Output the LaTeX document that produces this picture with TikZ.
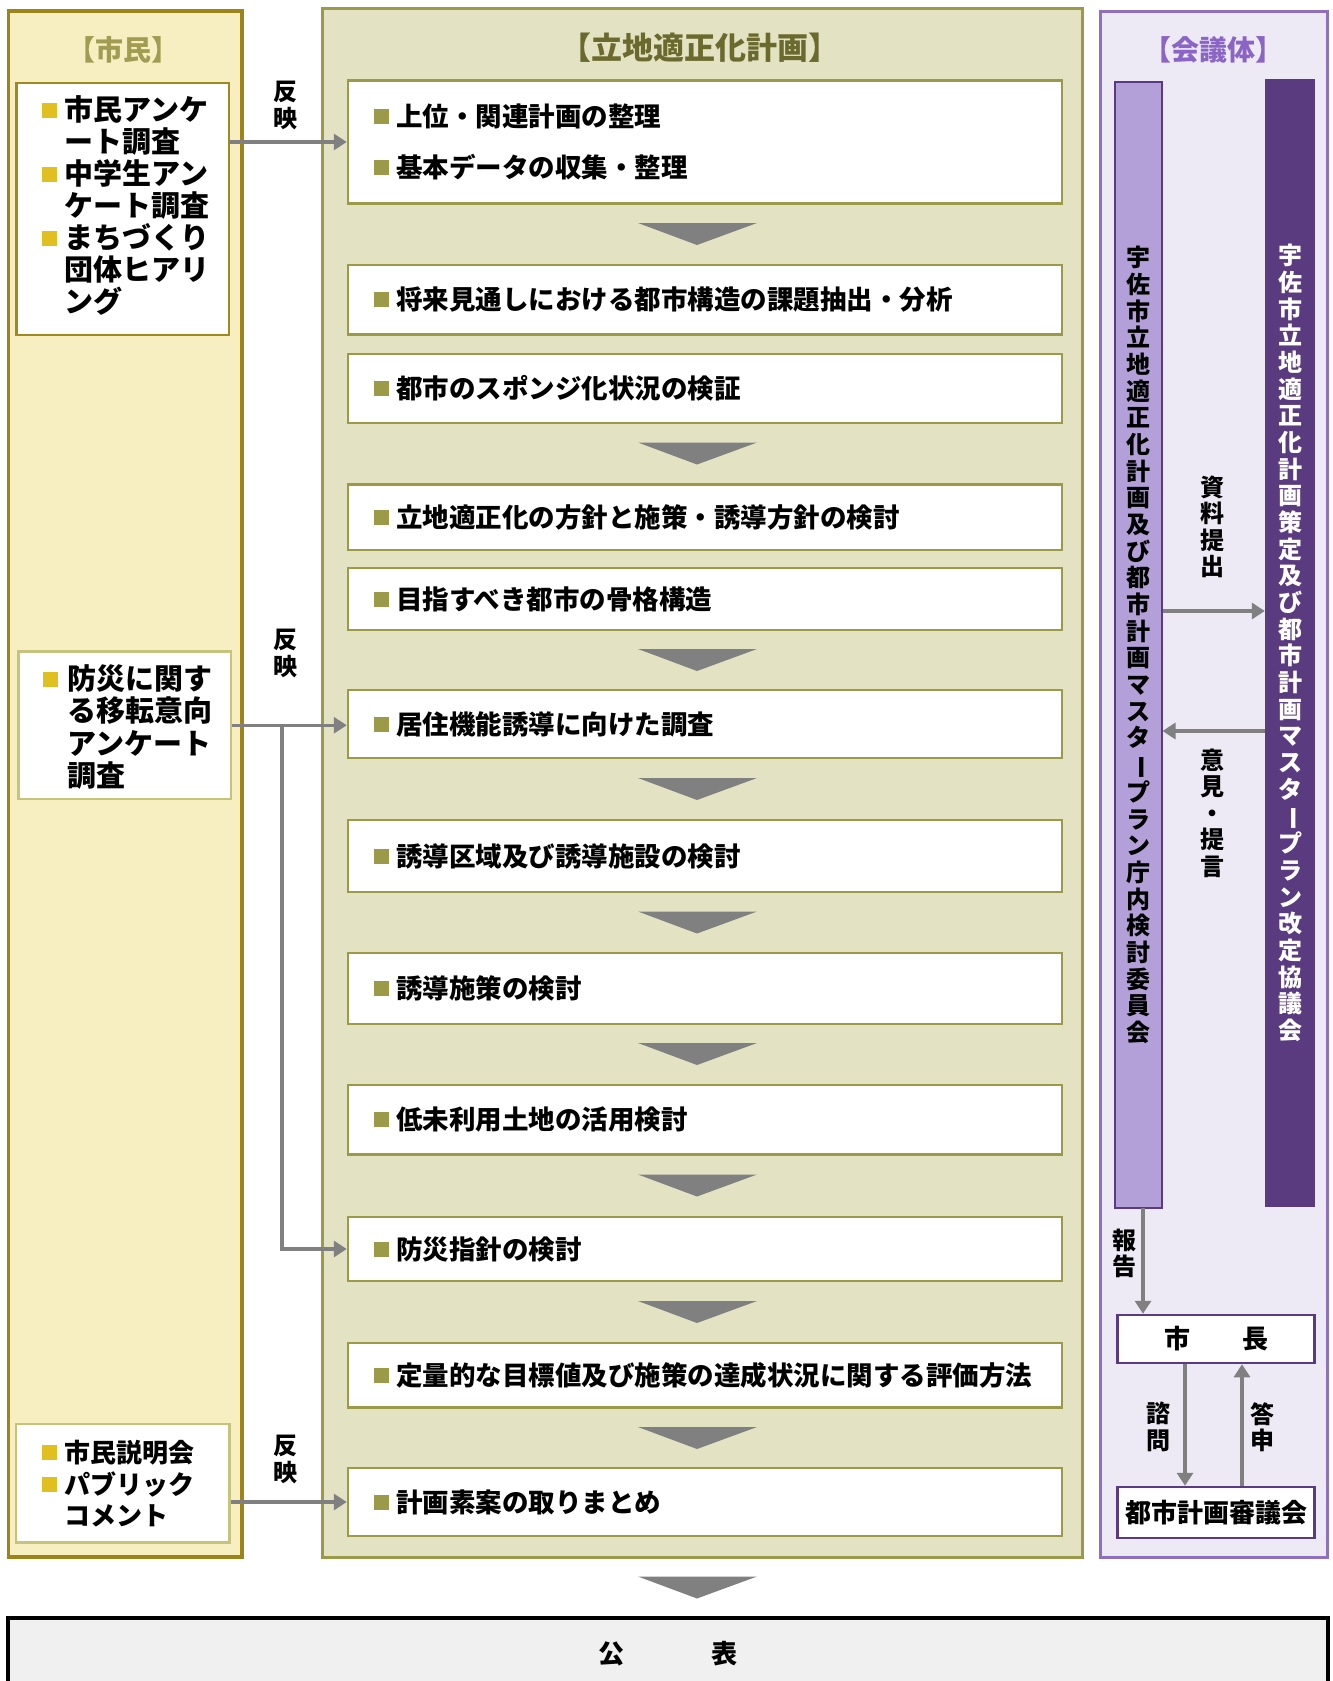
\documentclass[tikz,border=0pt]{standalone}
\usepackage{fontspec}
\setmainfont{Noto Sans CJK JP}
\usepackage{graphicx}
\usetikzlibrary{arrows.meta}
\definecolor{ctzfill}{HTML}{F7EEC2}
\definecolor{ctzline}{HTML}{9C8418}
\definecolor{ctztitle}{HTML}{A19C52}
\definecolor{boxAline}{HTML}{A08A20}
\definecolor{boxBline}{HTML}{C4C47C}
\definecolor{ybul}{HTML}{E0C020}
\definecolor{midfill}{HTML}{E3E3C4}
\definecolor{midline}{HTML}{9A9A48}
\definecolor{midtitle}{HTML}{6B6A2E}
\definecolor{obul}{HTML}{9A9A48}
\definecolor{arrgray}{HTML}{808080}
\definecolor{purfill}{HTML}{EEEAF5}
\definecolor{purline}{HTML}{8F6FC0}
\definecolor{purtitle}{HTML}{8B65C6}
\definecolor{lbarfill}{HTML}{B4A0D8}
\definecolor{barline}{HTML}{5A3A85}
\definecolor{dbarfill}{HTML}{5A3B80}
\definecolor{endfill}{HTML}{F0F0F0}
\newcommand\mybul[1]{\textcolor{#1}{\raisebox{2.4pt}{\rule{15pt}{15pt}}}\hspace{7pt}}
\newcommand\myind{\hspace{22pt}}
\newcommand\vbar{\rotatebox[origin=c]{-90}{ー}}
\newcommand\chev[1]{\fill[arrgray] (638,#1) -- (757,#1) -- (697,{#1+22}) -- cycle;}
\begin{document}
\begin{tikzpicture}[x=1pt,y=-1pt,
  ctzbox/.style={draw=boxAline, line width=2.5pt, fill=white, inner sep=0pt},
  ctzboxl/.style={draw=boxBline, line width=2.5pt, fill=white, inner sep=0pt},
  midbox/.style={draw=midline, line width=2.5pt, fill=white, minimum width=714pt,
     text width=662pt, inner xsep=26pt, inner ysep=0pt, align=left,
     font=\bfseries\fontsize{26.5}{51}\selectfont},
  purbox/.style={draw=barline, line width=2.5pt, fill=white, minimum width=197pt, inner sep=0pt,
     font=\bfseries\fontsize{26}{30}\selectfont},
  arr/.style={draw=arrgray, line width=3.2pt, -{Triangle[length=13pt,width=16pt]}},
  vlab/.style={align=center, inner sep=0pt, font=\bfseries\fontsize{24}{26.5}\selectfont},
  ttl/.style={inner sep=0pt, font=\bfseries\fontsize{28}{30}\selectfont}
]
\useasboundingbox (0,0) rectangle (1333,1681);
\clip (0,0) rectangle (1333,1681);
% outer panels
\draw[draw=ctzline, line width=3.5pt, fill=ctzfill] (8.5,11) rectangle (242,1557);
\draw[draw=midline, line width=3pt, fill=midfill] (322.5,8.5) rectangle (1082,1557);
\draw[draw=purline, line width=3pt, fill=purfill] (1100.5,11.5) rectangle (1327,1557);
% titles
\node[ttl, text=ctztitle] (tctz) at (123,50) {【市民】};
\node[ttl, text=midtitle, font=\bfseries\fontsize{31}{33}\selectfont] (tmid) at (700,48) {【立地適正化計画】};
\node[ttl, text=purtitle] (tpur) at (1213,50) {【会議体】};
% citizen boxes
\node[ctzbox, minimum width=212.5pt, minimum height=252pt] (A) at (122.75,209) {};
\node[anchor=west, inner sep=0pt, align=left, font=\bfseries\fontsize{29}{32}\selectfont] (Atxt) at (42,205)
 {\mybul{ybul}市民アンケ\\\myind ート調査\\\mybul{ybul}中学生アン\\\myind ケート調査\\\mybul{ybul}まちづくり\\\myind 団体ヒアリ\\\myind ング};
\node[ctzboxl, minimum width=212.5pt, minimum height=147.5pt] (B) at (124.75,725.25) {};
\node[anchor=west, inner sep=0pt, align=left, font=\bfseries\fontsize{29}{32.3}\selectfont] (Btxt) at (43,727)
 {\textcolor{ybul}{\raisebox{2.4pt}{\rule{15pt}{15pt}}}\hspace{9pt}防災に関す\\\hspace{24pt}る移転意向\\\hspace{24pt}アンケート\\\hspace{24pt}調査};
\node[ctzboxl, minimum width=213.5pt, minimum height=118.7pt] (C) at (122.75,1483.3) {};
\node[anchor=west, inner sep=0pt, align=left, font=\bfseries\fontsize{26}{31.5}\selectfont] (Ctxt) at (42,1484)
 {\mybul{ybul}市民説明会\\\mybul{ybul}パブリック\\\myind コメント};
% middle boxes
\node[midbox, minimum height=123pt] (m1) at (705,142) {\mybul{obul}上位・関連計画の整理\\\mybul{obul}基本データの収集・整理};
\node[midbox, minimum height=69.5pt] (m2) at (705,299.75) {\mybul{obul}将来見通しにおける都市構造の課題抽出・分析};
\node[midbox, minimum height=69pt] (m3) at (705,388.5) {\mybul{obul}都市のスポンジ化状況の検証};
\node[midbox, minimum height=65.5pt] (m4) at (705,517.25) {\mybul{obul}立地適正化の方針と施策・誘導方針の検討};
\node[midbox, minimum height=62pt] (m5) at (705,599) {\mybul{obul}目指すべき都市の骨格構造};
\node[midbox, minimum height=68pt] (m6) at (705,724) {\mybul{obul}居住機能誘導に向けた調査};
\node[midbox, minimum height=72pt] (m7) at (705,856) {\mybul{obul}誘導区域及び誘導施設の検討};
\node[midbox, minimum height=71pt] (m8) at (705,988.5) {\mybul{obul}誘導施策の検討};
\node[midbox, minimum height=69.5pt] (m9) at (705,1119.75) {\mybul{obul}低未利用土地の活用検討};
\node[midbox, minimum height=64pt] (m10) at (705,1249) {\mybul{obul}防災指針の検討};
\node[midbox, minimum height=64.5pt] (m11) at (705,1375.25) {\mybul{obul}定量的な目標値及び施策の達成状況に関する評価方法};
\node[midbox, minimum height=68pt] (m12) at (705,1502) {\mybul{obul}計画素案の取りまとめ};
% chevrons
\chev{223}
\chev{442.5}
\chev{649}
\chev{778}
\chev{911.5}
\chev{1043}
\chev{1174.5}
\chev{1301}
\chev{1427}
\chev{1576.5}
% final box
\node[draw=black, line width=3.8pt, fill=endfill, minimum width=1320pt, minimum height=72pt, inner sep=0pt] (pub) at (668,1654) {};
\node[inner sep=0pt, font=\bfseries\fontsize{26}{30}\selectfont] (pubtxt) at (668,1654) {公\hspace{87pt}表};
% citizen arrows
\draw[arr] (A.east |- m1.west) -- (m1.west);
\node[vlab] (r1) at (285,105.5) {反\\映};
\draw[arr] (B.east) -- (B.east -| m6.west);
\coordinate (br) at (282,725.25);
\draw[arr] (br) |- (m10.west);
\node[vlab] (r2) at (285,653.5) {反\\映};
\draw[arr] (C.east |- m12.west) -- (m12.west);
\node[vlab] (r3) at (285,1459.5) {反\\映};
% council bars
\node[draw=barline, line width=2pt, fill=lbarfill, minimum width=46.5pt, minimum height=1126pt, inner sep=0pt,
  align=center, font=\bfseries\fontsize{24}{26.66}\selectfont] (LB) at (1138.25,645)
 {宇\\佐\\市\\立\\地\\適\\正\\化\\計\\画\\及\\び\\都\\市\\計\\画\\マ\\ス\\タ\\\vbar\\プ\\ラ\\ン\\庁\\内\\検\\討\\委\\員\\会};
\node[fill=dbarfill, minimum width=50pt, minimum height=1128pt, inner sep=0pt, text=white,
  align=center, font=\bfseries\fontsize{24}{26.66}\selectfont] (DB) at (1290,643)
 {宇\\佐\\市\\立\\地\\適\\正\\化\\計\\画\\策\\定\\及\\び\\都\\市\\計\\画\\マ\\ス\\タ\\\vbar\\プ\\ラ\\ン\\改\\定\\協\\議\\会};
\coordinate (ya) at (0,611);
\coordinate (yb) at (0,731);
\draw[arr] (LB.east |- ya) -- (DB.west |- ya);
\draw[arr] (DB.west |- yb) -- (LB.east |- yb);
\node[vlab] (l1) at (1212,527) {資\\料\\提\\出};
\node[vlab] (l2) at (1212,813) {意\\見\\・\\提\\言};
% mayor and council
\node[purbox, minimum height=48pt] (mayor) at (1216,1339) {市　　長};
\node[purbox, minimum height=51pt] (council) at (1216,1512.5) {都市計画審議会};
\coordinate (rp) at (1143,1208);
\draw[arr] (rp) -- (rp |- mayor.north);
\node[vlab] (l3) at (1124,1253.5) {報\\告};
\coordinate (xq) at (1185,0);
\coordinate (xr) at (1242,0);
\draw[arr] (mayor.south -| xq) -- (council.north -| xq);
\draw[arr] (council.north -| xr) -- (mayor.south -| xr);
\node[vlab] (l4) at (1158,1427) {諮\\問};
\node[vlab] (l5) at (1262,1427) {答\\申};
\end{tikzpicture}
\end{document}
